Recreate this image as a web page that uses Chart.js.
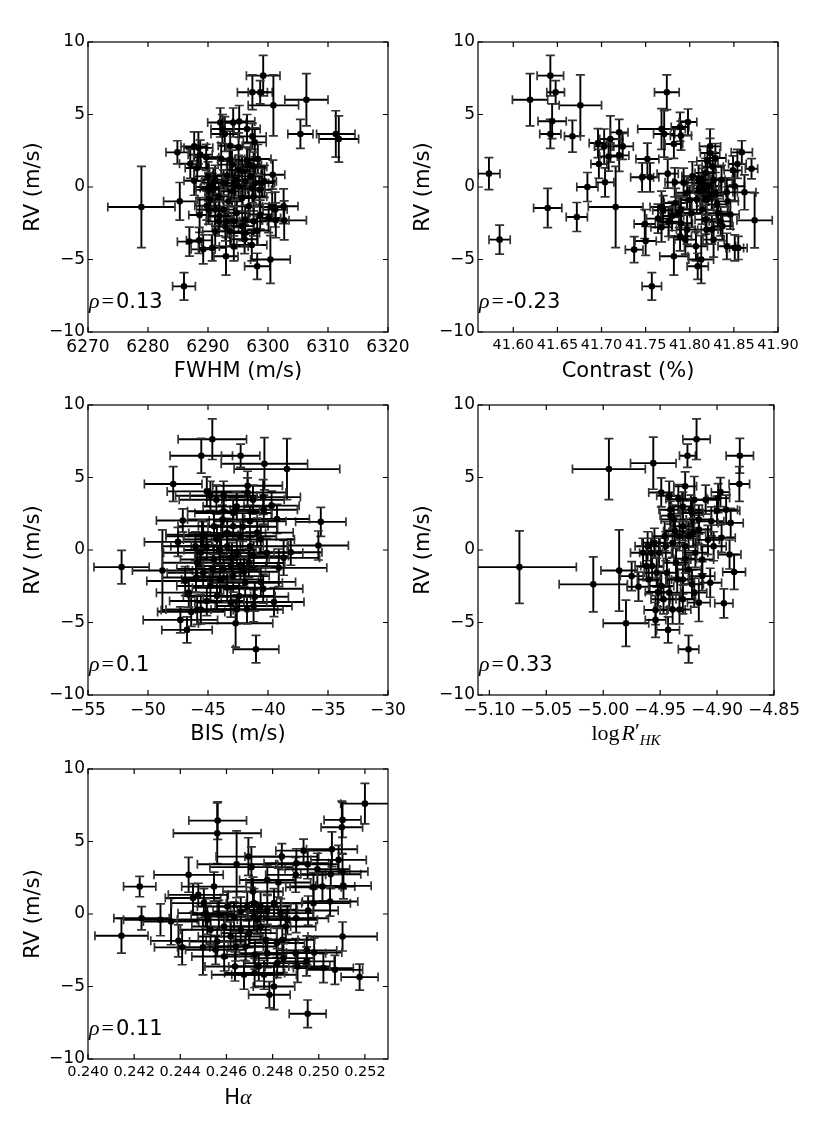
<!DOCTYPE html>
<html>
<head>
<meta charset="utf-8">
<script src="https://cdn.jsdelivr.net/npm/chart.js@4.4.1/dist/chart.umd.min.js"></script>
<style>
html, body { margin: 0; padding: 0; background: #fff; }
#page { position: relative; width: 830px; height: 1136px; overflow: hidden; background: #fff; }
#page canvas { position: absolute; }
</style>
</head>
<body>
<div id="page">
<canvas id="c1" width="415" height="380" style="left:0px;top:6px"></canvas>
<canvas id="c2" width="415" height="380" style="left:390px;top:6px"></canvas>
<canvas id="c3" width="415" height="380" style="left:0px;top:369px"></canvas>
<canvas id="c4" width="415" height="380" style="left:390px;top:369px"></canvas>
<canvas id="c5" width="415" height="380" style="left:0px;top:733px"></canvas>
</div>
<script>
// each point: [x, x error, RV, RV error]
const fwhmPts = [
	[6299.2, 2.8, 7.68, 1.4], [6297.4, 2.5, 6.53, 1.2], [6298.7, 2.0, 6.53, 0.8], [6300.9, 4.2, 5.63, 2.1],
	[6306.4, 3.6, 6.02, 1.8], [6305.4, 2.1, 3.66, 1.0], [6311.3, 3.2, 3.66, 1.6], [6311.8, 3.3, 3.31, 1.6],
	[6278.9, 5.6, -1.38, 2.8], [6284.9, 1.9, 2.39, 0.8], [6285.3, 2.7, -0.99, 1.3], [6286.0, 1.9, -6.85, 0.95],
	[6286.9, 2.0, -3.77, 1.0], [6287.05, 1.8, 1.6, 1.0], [6287.7, 2.2, 2.8, 1.0], [6288.4, 2.4, 2.7, 1.1],
	[6288.2, 2.0, 1.31, 0.9], [6287.7, 1.7, 0.43, 1.0], [6288.6, 1.8, -1.93, 1.2], [6288.5, 2.1, -3.68, 0.9],
	[6289.2, 2.0, -4.3, 1.0], [6290.7, 2.3, -4.2, 0.9], [6293.0, 2.0, -4.78, 1.3], [6294.3, 2.4, -4.1, 1.0],
	[6296.1, 2.2, -3.6, 1.0], [6297.3, 2.5, -4.0, 1.1], [6298.2, 2.1, -5.47, 0.9], [6300.4, 3.3, -5.0, 1.65],
	[6292.05, 2.1, 4.45, 1.0], [6292.4, 1.9, 4.0, 1.0], [6292.8, 2.3, 3.66, 1.2], [6293.7, 2.0, 2.85, 1.0],
	[6294.2, 2.2, 4.45, 1.0], [6295.2, 2.6, 4.52, 1.1], [6295.1, 2.0, 2.73, 1.0], [6296.5, 2.2, 4.0, 1.0],
	[6297.4, 2.3, 3.49, 0.9], [6297.8, 1.9, 3.08, 1.0], [6292.2, 2.4, 1.95, 1.1], [6293.6, 2.0, 1.88, 1.0],
	[6296.5, 2.1, 1.83, 0.9], [6298.3, 2.2, 1.93, 1.0], [6300.8, 2.0, 0.85, 1.0], [6290.0, 2.3, 0.73, 1.0],
	[6290.7, 2.0, -0.07, 1.0], [6290.1, 2.1, -0.2, 1.1], [6291.2, 2.2, 0.5, 1.0], [6292.6, 2.0, 0.28, 0.9],
	[6293.2, 2.4, 0.78, 1.0], [6294.6, 2.1, 0.5, 1.1], [6295.7, 2.0, 1.08, 1.0], [6296.2, 2.3, 0.39, 1.0],
	[6297.05, 2.0, 0.73, 0.9], [6297.9, 2.2, 0.28, 1.0], [6299.0, 2.1, 0.28, 1.0], [6299.4, 2.0, 0.39, 1.1],
	[6295.1, 2.2, 0.04, 1.0], [6294.0, 2.0, -0.3, 1.0], [6291.8, 2.3, -0.65, 1.0], [6290.4, 2.1, -0.87, 1.1],
	[6289.8, 2.0, -1.29, 1.0], [6293.4, 2.4, -0.99, 1.0], [6295.7, 2.1, -0.76, 0.9], [6297.6, 2.2, -0.65, 1.0],
	[6298.6, 2.0, -0.19, 1.0], [6296.8, 2.3, -1.33, 1.1], [6292.6, 2.0, -1.56, 1.0], [6294.8, 2.2, -1.79, 1.0],
	[6300.7, 2.1, -1.38, 1.0], [6301.2, 2.0, -1.56, 1.2], [6302.6, 2.4, -1.33, 1.2], [6302.7, 3.7, -2.3, 1.35],
	[6301.3, 2.2, -2.3, 1.2], [6300.1, 2.0, -2.14, 1.0], [6298.7, 2.1, -1.9, 1.0], [6297.6, 2.3, -2.37, 1.0],
	[6296.2, 2.0, -2.25, 1.0], [6294.3, 2.2, -2.37, 1.0], [6293.2, 2.0, -2.37, 1.1], [6291.8, 2.1, -2.37, 1.0],
	[6292.9, 2.2, -2.72, 1.0], [6293.7, 2.0, -3.06, 1.0], [6296.2, 2.4, -3.17, 0.9], [6295.7, 2.0, -2.7, 1.0],
	[6298.2, 2.2, -3.0, 1.0], [6291.2, 2.1, -3.06, 1.0], [6290.1, 2.0, -1.56, 1.0], [6291.2, 2.2, -1.56, 1.1],
	[6291.9, 2.0, -2.0, 1.0], [6290.1, 2.1, 0.0, 1.0], [6290.9, 2.0, 0.3, 1.0], [6294.4, 2.2, 0.1, 1.0],
	[6297.4, 2.1, -0.1, 1.0], [6295.1, 2.0, 1.19, 1.0], [6294.0, 2.3, 1.54, 1.0], [6296.9, 2.0, 1.54, 1.1],
	[6297.6, 2.2, 1.4, 1.0], [6288.7, 2.0, 2.23, 1.0], [6289.7, 2.1, 2.05, 0.9]
];

const contrastPts = [
	[41.5724, 0.0125, 0.92, 1.1], [41.5845, 0.012, -3.63, 1.0], [41.619, 0.02, 6.02, 1.8], [41.642, 0.015, 7.68, 1.4],
	[41.648, 0.01, 6.53, 0.8], [41.644, 0.016, 4.53, 1.2], [41.642, 0.012, 3.66, 1.0], [41.639, 0.016, -1.45, 1.35],
	[41.667, 0.009, 3.5, 1.1], [41.672, 0.012, -2.07, 1.0], [41.676, 0.024, 5.63, 2.1], [41.684, 0.012, 0.0, 1.0],
	[41.696, 0.01, 3.03, 1.0], [41.697, 0.009, 1.59, 1.0], [41.704, 0.01, 0.32, 1.0], [41.703, 0.011, 2.8, 1.2],
	[41.71, 0.012, 3.31, 1.6], [41.708, 0.01, 2.1, 1.0], [41.72, 0.01, 3.77, 0.9], [41.72, 0.011, 2.18, 1.1],
	[41.724, 0.012, 2.8, 0.9], [41.716, 0.031, -1.38, 2.8], [41.737, 0.01, -4.32, 0.9], [41.746, 0.013, 0.67, 1.0],
	[41.749, 0.012, -2.55, 1.0], [41.75, 0.012, -3.72, 1.0], [41.752, 0.013, 1.93, 1.1], [41.755, 0.01, 0.67, 1.0],
	[41.757, 0.011, -6.85, 0.95], [41.768, 0.027, 4.0, 1.4], [41.771, 0.012, 3.66, 1.6], [41.774, 0.014, 6.53, 1.2],
	[41.764, 0.013, -2.18, 1.0], [41.768, 0.012, -2.78, 1.0], [41.768, 0.013, -1.38, 1.1], [41.775, 0.012, 0.92, 1.0],
	[41.782, 0.016, -4.78, 1.3], [41.782, 0.01, 2.97, 1.0], [41.783, 0.011, 0.32, 1.0], [41.789, 0.01, 4.14, 1.0],
	[41.79, 0.012, 3.54, 1.0], [41.798, 0.01, 4.48, 0.9], [41.784, 0.013, -1.1, 1.0], [41.788, 0.012, -1.8, 1.0],
	[41.79, 0.013, -2.5, 1.1], [41.795, 0.012, -3.63, 1.0], [41.807, 0.013, -4.09, 1.0], [41.809, 0.012, -5.47, 0.9],
	[41.813, 0.014, -5.0, 1.65], [41.823, 0.012, 2.8, 1.2], [41.823, 0.011, 2.35, 1.0], [41.829, 0.012, 2.0, 1.0],
	[41.822, 0.013, 0.05, 1.0], [41.829, 0.012, -0.4, 1.0], [41.818, 0.012, 0.97, 1.0], [41.812, 0.013, -0.3, 1.0],
	[41.803, 0.012, 0.74, 1.0], [41.797, 0.013, -0.4, 1.1], [41.827, 0.012, -3.63, 1.2], [41.835, 0.013, -2.37, 1.0],
	[41.842, 0.01, -4.09, 0.9], [41.851, 0.01, -4.2, 0.9], [41.855, 0.01, -4.2, 0.8], [41.843, 0.012, -0.99, 1.0],
	[41.846, 0.01, -1.9, 1.0], [41.849, 0.01, 1.15, 1.0], [41.851, 0.011, 0.05, 1.0], [41.854, 0.01, 1.59, 1.0],
	[41.859, 0.012, 2.39, 0.8], [41.870, 0.007, 1.26, 0.7], [41.862, 0.013, -0.37, 1.2], [41.8735, 0.02, -2.3, 1.9],
	[41.842, 0.012, -0.37, 1.0], [41.836, 0.012, 0.5, 1.0], [41.827, 0.013, 0.5, 1.0], [41.819, 0.012, -0.87, 1.0],
	[41.814, 0.013, -1.56, 1.0], [41.818, 0.012, -2.25, 1.0], [41.825, 0.012, -2.94, 1.0], [41.819, 0.013, -2.94, 1.0],
	[41.821, 0.012, 0.05, 1.0], [41.814, 0.011, 0.28, 1.0], [41.808, 0.013, -0.87, 1.0], [41.802, 0.012, -1.79, 1.0],
	[41.797, 0.012, -2.94, 1.0], [41.789, 0.013, -3.4, 1.0], [41.79, 0.012, -1.56, 1.0], [41.78, 0.013, -2.0, 1.0],
	[41.826, 0.012, 1.4, 1.0], [41.831, 0.012, -1.2, 1.0], [41.816, 0.012, -0.1, 1.0], [41.825, 0.013, -0.6, 1.0],
	[41.832, 0.012, -1.8, 1.0], [41.82, 0.012, 1.8, 1.0], [41.81, 0.012, 0.5, 1.0], [41.837, 0.012, -2.7, 1.0],
	[41.8, 0.012, -0.9, 1.0], [41.793, 0.012, 0.3, 1.0], [41.77, 0.012, -1.6, 1.0], [41.776, 0.012, -2.4, 1.0]
];

const bisPts = [
	[-44.64, 2.85, 7.64, 1.4], [-45.56, 2.6, 6.5, 1.2], [-42.28, 1.6, 6.5, 0.8], [-40.3, 3.6, 5.95, 1.8],
	[-38.42, 4.4, 5.58, 2.1], [-47.9, 2.4, 4.55, 1.2], [-52.2, 2.3, -1.18, 1.15], [-48.8, 2.5, -1.41, 2.8],
	[-47.1, 2.2, 2.03, 0.8], [-47.5, 2.8, 0.56, 1.0], [-35.6, 2.1, 1.94, 1.0], [-35.8, 2.5, 0.31, 1.0],
	[-38.1, 2.6, -0.15, 0.9], [-38.7, 3.0, -0.54, 1.2], [-39.1, 4.0, -1.23, 1.3], [-39.5, 2.5, -3.59, 1.0],
	[-39.25, 2.7, 2.14, 1.0], [-39.7, 2.3, 3.06, 1.0], [-40.4, 3.1, 3.65, 1.2], [-40.35, 2.8, 2.78, 1.0],
	[-41.7, 2.9, 4.43, 1.0], [-41.7, 3.2, 3.97, 1.0], [-41.25, 2.6, 3.47, 1.0], [-41.5, 3.0, 1.98, 1.1],
	[-45.1, 3.3, 4.04, 1.0], [-44.8, 2.9, 3.74, 1.0], [-44.3, 3.1, 3.47, 1.0], [-43.7, 2.8, 3.74, 1.0],
	[-47.3, 3.1, -4.82, 0.9], [-46.75, 2.1, -5.51, 0.9], [-46.4, 2.8, -4.27, 1.0], [-45.9, 3.0, -4.13, 1.0],
	[-46.6, 2.7, -2.94, 1.0], [-46.9, 3.2, -2.14, 1.0], [-42.7, 3.1, -5.05, 1.65], [-41.0, 1.9, -6.84, 0.95],
	[-42.6, 3.4, -4.1, 1.0], [-41.75, 3.0, -4.1, 1.0], [-41.2, 3.2, -3.86, 1.1], [-43.1, 3.0, -3.63, 1.0],
	[-41.1, 2.8, -3.22, 1.0], [-40.4, 3.3, -2.67, 1.0], [-40.6, 2.9, -2.2, 1.0], [-41.9, 3.1, -2.26, 1.0],
	[-42.9, 3.0, -1.8, 1.1], [-44.0, 3.2, -2.03, 1.0], [-44.8, 2.8, -2.48, 1.0], [-45.4, 3.0, -1.57, 1.0],
	[-45.9, 2.9, -0.88, 1.0], [-45.6, 3.1, -0.19, 1.0], [-45.1, 3.0, 0.26, 1.0], [-44.25, 2.8, 0.72, 1.0],
	[-43.4, 3.2, 1.18, 1.0], [-42.9, 2.9, 1.64, 1.0], [-42.3, 3.0, 0.95, 1.0], [-41.5, 3.1, 0.26, 1.0],
	[-40.6, 2.8, 0.72, 1.0], [-40.1, 3.0, -0.19, 1.0], [-41.2, 2.9, -0.42, 1.0], [-42.6, 3.1, -0.19, 1.0],
	[-43.4, 3.0, 0.26, 1.0], [-44.5, 2.8, -0.65, 1.0], [-45.4, 3.1, 0.95, 1.0], [-44.5, 3.0, 1.64, 1.0],
	[-43.8, 2.9, 2.1, 1.0], [-42.9, 3.2, 2.55, 1.0], [-42.6, 2.8, 3.0, 1.0], [-43.7, 3.0, 2.67, 1.0],
	[-43.1, 2.9, -1.11, 1.0], [-42.3, 3.1, -1.11, 1.0], [-43.7, 3.0, -1.34, 1.0], [-44.25, 2.8, -3.17, 1.0],
	[-45.1, 3.1, -3.52, 1.0], [-42.4, 3.0, -3.17, 1.0], [-45.6, 2.9, -4.1, 1.0], [-45.5, 3.0, 1.06, 1.0],
	[-46.05, 2.8, 0.26, 1.0], [-44.0, 3.0, 0.0, 1.0], [-43.0, 3.1, -0.5, 1.0], [-42.0, 2.9, -1.5, 1.0],
	[-44.6, 3.0, -1.3, 1.0], [-43.4, 2.9, -2.6, 1.0], [-41.6, 3.0, -0.9, 1.0], [-46.0, 2.8, -1.9, 1.0],
	[-43.9, 3.1, 1.0, 1.0], [-42.1, 2.9, 1.6, 1.0], [-40.9, 3.0, 1.2, 1.0]
];

const rhkPts = [
	[-5.0736, 0.05, -1.18, 2.5], [-5.0087, 0.03, -2.37, 1.9], [-4.995, 0.032, 5.58, 2.1], [-4.986, 0.016, -1.41, 2.8],
	[-4.98, 0.02, -5.05, 1.6], [-4.975, 0.01, -1.8, 1.0], [-4.969, 0.01, -2.53, 1.0], [-4.956, 0.02, 5.99, 1.8],
	[-4.949, 0.011, 3.97, 1.0], [-4.954, 0.01, -4.14, 1.0], [-4.954, 0.009, -4.82, 1.2], [-4.943, 0.01, -5.51, 0.9],
	[-4.942, 0.011, 3.74, 1.0], [-4.941, 0.01, 2.78, 1.0], [-4.941, 0.009, 2.37, 1.0], [-4.934, 0.011, 3.51, 1.0],
	[-4.928, 0.01, 4.39, 1.0], [-4.926, 0.007, 6.5, 0.8], [-4.918, 0.012, 7.64, 1.4], [-4.925, 0.009, -6.84, 0.95],
	[-4.920, 0.012, 3.47, 1.6], [-4.923, 0.01, 2.78, 1.0], [-4.916, 0.011, 1.41, 1.0], [-4.910, 0.01, 3.47, 1.0],
	[-4.905, 0.011, 1.98, 1.0], [-4.899, 0.01, 3.58, 1.0], [-4.897, 0.008, 3.99, 1.0], [-4.900, 0.02, 2.71, 1.0],
	[-4.892, 0.01, 2.78, 1.0], [-4.894, 0.008, -3.68, 1.0], [-4.888, 0.011, 1.87, 1.0], [-4.885, 0.01, -1.52, 1.2],
	[-4.889, 0.01, -0.31, 1.0], [-4.880, 0.012, 6.5, 1.2], [-4.8804, 0.009, 4.55, 1.2], [-4.896, 0.012, 0.84, 1.0],
	[-4.903, 0.011, 0.26, 1.0], [-4.906, 0.01, -2.26, 1.0], [-4.913, 0.011, -1.8, 1.0], [-4.916, 0.01, -3.63, 1.3],
	[-4.920, 0.011, -2.94, 1.0], [-4.922, 0.01, -2.37, 1.0], [-4.925, 0.011, -1.34, 1.0], [-4.930, 0.01, -2.03, 1.0],
	[-4.928, 0.011, 0.26, 1.0], [-4.933, 0.01, 0.95, 1.0], [-4.939, 0.011, 0.49, 1.0], [-4.945, 0.01, 0.26, 1.0],
	[-4.951, 0.011, -0.19, 1.0], [-4.957, 0.01, -1.11, 1.0], [-4.961, 0.011, 0.26, 1.0], [-4.960, 0.01, -2.03, 1.0],
	[-4.953, 0.011, -1.57, 1.0], [-4.944, 0.01, -1.57, 1.0], [-4.936, 0.011, -0.88, 1.0], [-4.930, 0.01, 1.64, 1.0],
	[-4.938, 0.011, 2.1, 1.0], [-4.942, 0.01, -2.94, 1.0], [-4.939, 0.011, -4.1, 1.0], [-4.933, 0.01, -4.1, 1.0],
	[-4.930, 0.011, -3.4, 1.0], [-4.935, 0.01, -2.03, 1.0], [-4.949, 0.011, -2.48, 1.0], [-4.958, 0.01, -0.19, 1.0],
	[-4.965, 0.011, -0.19, 1.0], [-4.962, 0.01, -1.11, 1.0], [-4.946, 0.011, 0.95, 1.0], [-4.925, 0.01, 0.95, 1.0],
	[-4.919, 0.011, -0.19, 1.0], [-4.913, 0.01, -0.65, 1.0], [-4.916, 0.011, 2.1, 1.0], [-4.922, 0.01, 2.55, 1.0],
	[-4.947, 0.011, -3.4, 1.0], [-4.928, 0.01, -0.6, 1.0], [-4.921, 0.011, 1.2, 1.0], [-4.908, 0.01, 0.7, 1.0],
	[-4.952, 0.011, -2.9, 1.0], [-4.937, 0.01, 1.3, 1.0], [-4.955, 0.011, 0.5, 1.0], [-4.93, 0.01, 3.0, 1.0]
];

const halphaPts = [
	[0.2520, 0.00105, 7.61, 1.4], [0.25103, 0.0008, 6.49, 1.2], [0.2510, 0.0009, 5.98, 1.8], [0.24562, 0.00125, 6.44, 1.3],
	[0.2456, 0.0019, 5.57, 2.1], [0.25177, 0.0008, -4.35, 0.9], [0.24952, 0.0008, -6.88, 0.95], [0.24786, 0.0009, -5.57, 0.9],
	[0.24806, 0.0009, -5.0, 1.6], [0.24145, 0.00115, -1.5, 1.2], [0.24224, 0.0007, 1.89, 0.7], [0.24232, 0.0012, -0.29, 0.8],
	[0.24314, 0.0016, -0.4, 1.1], [0.24360, 0.0012, -0.52, 1.6], [0.24392, 0.0012, -1.85, 1.1], [0.24408, 0.0012, -2.3, 1.2],
	[0.24436, 0.0015, 2.7, 1.2], [0.24455, 0.0012, 1.1, 1.0], [0.24478, 0.0013, 1.32, 0.8], [0.24498, 0.0011, -2.3, 1.9],
	[0.24546, 0.0014, 1.89, 1.0], [0.24644, 0.0017, 3.43, 2.3], [0.24695, 0.0014, 3.96, 1.3], [0.24708, 0.0018, 3.23, 1.4],
	[0.24715, 0.0013, 1.55, 1.0], [0.24777, 0.0012, 2.35, 1.0], [0.2484, 0.0016, 3.96, 0.9], [0.24825, 0.0014, 2.17, 1.0],
	[0.24934, 0.0012, 4.37, 0.8], [0.24900, 0.0013, 2.7, 1.2], [0.24903, 0.0014, 3.5, 1.0], [0.24952, 0.0013, 3.43, 1.0],
	[0.24994, 0.0014, 3.09, 1.1], [0.24977, 0.0012, 1.85, 1.0], [0.25016, 0.0014, 1.9, 1.0], [0.25057, 0.0011, 4.47, 1.2],
	[0.25052, 0.0013, 2.74, 1.0], [0.25086, 0.0012, 3.73, 1.0], [0.25103, 0.0011, 2.93, 1.2], [0.25107, 0.0012, 1.94, 0.9],
	[0.24977, 0.0016, 0.75, 1.0], [0.24954, 0.0013, 0.24, 1.0], [0.25049, 0.0012, 0.86, 1.0], [0.25103, 0.0015, -1.55, 1.0],
	[0.24947, 0.0012, -3.27, 1.0], [0.24948, 0.0013, -2.51, 1.0], [0.2498, 0.0012, -2.65, 1.0], [0.2502, 0.0013, -3.73, 1.0],
	[0.2507, 0.0012, -3.85, 1.0], [0.24908, 0.0014, -3.62, 1.1], [0.24900, 0.0013, -2.7, 1.0], [0.24902, 0.0014, -0.29, 1.0],
	[0.24857, 0.0013, -0.86, 1.0], [0.24842, 0.0014, -1.78, 1.0], [0.24818, 0.0012, -2.0, 1.0], [0.24847, 0.0013, -3.04, 1.0],
	[0.24763, 0.0014, -4.19, 1.0], [0.24722, 0.0013, -4.07, 1.0], [0.24676, 0.0014, -4.19, 1.0], [0.24637, 0.0013, -3.62, 1.0],
	[0.24723, 0.0012, -2.8, 1.0], [0.24770, 0.0014, -1.78, 1.0], [0.24748, 0.0013, -0.86, 1.0], [0.24719, 0.0014, -0.17, 1.0],
	[0.2469, 0.0013, 0.52, 1.0], [0.24662, 0.0012, 0.17, 1.0], [0.24633, 0.0014, -0.17, 1.0], [0.24604, 0.0013, 0.52, 1.0],
	[0.2459, 0.0014, -0.86, 1.0], [0.2456, 0.0012, -1.9, 1.0], [0.24553, 0.0013, -2.47, 1.0], [0.2459, 0.0014, -2.93, 1.0],
	[0.24531, 0.0013, -1.09, 1.0], [0.2451, 0.0012, 0.06, 1.0], [0.24502, 0.0014, 0.75, 1.0], [0.24517, 0.0013, -0.4, 1.0],
	[0.24567, 0.0012, -0.06, 1.0], [0.24618, 0.0014, -1.55, 1.0], [0.24662, 0.0013, -1.09, 1.0], [0.24698, 0.0012, -1.32, 1.0],
	[0.24734, 0.0014, -0.4, 1.0], [0.24777, 0.0013, 0.29, 1.0], [0.24806, 0.0012, 0.75, 1.0], [0.24835, 0.0014, 0.06, 1.0],
	[0.24864, 0.0013, -0.4, 1.0], [0.24777, 0.0012, -2.7, 1.0], [0.2482, 0.0014, -3.39, 1.0], [0.2474, 0.0013, -3.62, 1.0],
	[0.2464, 0.0012, -2.24, 1.0], [0.24683, 0.0014, -2.24, 1.0], [0.24748, 0.0013, 0.52, 1.0], [0.24719, 0.0012, 0.75, 1.0]
];

// tick values for the axes
const rvTicks = [-10, -5, 0, 5, 10];
const fwhmTicks = [6270, 6280, 6290, 6300, 6310, 6320];
const contrastTicks = [41.60, 41.65, 41.70, 41.75, 41.80, 41.85, 41.90];
const bisTicks = [-55, -50, -45, -40, -35, -30];
const rhkTicks = [-5.10, -5.05, -5.00, -4.95, -4.90, -4.85];
const halphaTicks = [0.240, 0.242, 0.244, 0.246, 0.248, 0.250, 0.252];

// correlation coefficients shown in each panel
const rhoLabels = ["0.13", "-0.23", "0.1", "0.33", "0.11"];

const SANS = '"DejaVu Sans"';
const SERIF = '"Liberation Serif"';

Chart.defaults.font.family = SANS;
Chart.defaults.color = "#000";

function fmt(v, dec) {
	const s = Math.abs(v).toFixed(dec);
	return v < 0 ? "\u2212" + s : s;
}

function drawRich(ctx, segs, x, y, align) {
	let total = 0;
	segs.forEach(function (s) {
		ctx.font = s.font;
		s.w = ctx.measureText(s.t).width;
		total += s.w + (s.gap || 0);
	});
	let cx = align === "center" ? x - total / 2 : x;
	ctx.textAlign = "left";
	ctx.textBaseline = "alphabetic";
	segs.forEach(function (s) {
		ctx.font = s.font;
		ctx.fillText(s.t, cx, y + (s.dy || 0));
		cx += s.w + (s.gap || 0);
	});
}

const errorBars = {
	id: "errorBars",
	beforeDatasetsDraw(chart) {
		const { ctx, chartArea: a, scales } = chart;
		const x = scales.x, y = scales.y;
		ctx.save();
		ctx.beginPath();
		ctx.rect(a.left, a.top, a.right - a.left, a.bottom - a.top);
		ctx.clip();
		chart.data.datasets[0].data.forEach(function (d) {
			const px = x.getPixelForValue(d.x), py = y.getPixelForValue(d.y);
			const x0 = x.getPixelForValue(d.x - d.xe), x1 = x.getPixelForValue(d.x + d.xe);
			const y0 = y.getPixelForValue(d.y - d.ye), y1 = y.getPixelForValue(d.y + d.ye);
			ctx.strokeStyle = "#000";
			ctx.lineWidth = 1.9;
			ctx.beginPath();
			ctx.moveTo(x0, py); ctx.lineTo(x1, py);
			ctx.moveTo(px, y0); ctx.lineTo(px, y1);
			ctx.stroke();
			ctx.strokeStyle = "#333";
			ctx.lineWidth = 1.7;
			ctx.beginPath();
			ctx.moveTo(x0, py - 4.5); ctx.lineTo(x0, py + 4.5);
			ctx.moveTo(x1, py - 4.5); ctx.lineTo(x1, py + 4.5);
			ctx.moveTo(px - 4.5, y0); ctx.lineTo(px + 4.5, y0);
			ctx.moveTo(px - 4.5, y1); ctx.lineTo(px + 4.5, y1);
			ctx.stroke();
		});
		ctx.restore();
	},
};

const frame = {
	id: "frame",
	afterDraw(chart, args, opts) {
		const { ctx, chartArea: a, scales } = chart;
		ctx.save();
		ctx.strokeStyle = "#000";
		ctx.lineWidth = 1.2;
		ctx.strokeRect(a.left, a.top, a.right - a.left, a.bottom - a.top);
		ctx.beginPath();
		opts.xTicks.forEach(function (v) {
			const p = scales.x.getPixelForValue(v);
			ctx.moveTo(p, a.bottom); ctx.lineTo(p, a.bottom - 5);
			ctx.moveTo(p, a.top); ctx.lineTo(p, a.top + 5);
		});
		rvTicks.forEach(function (v) {
			const p = scales.y.getPixelForValue(v);
			ctx.moveTo(a.left, p); ctx.lineTo(a.left + 5, p);
			ctx.moveTo(a.right, p); ctx.lineTo(a.right - 5, p);
		});
		ctx.stroke();

		ctx.fillStyle = "#000";
		// x title
		drawRich(ctx, opts.xTitle, (a.left + a.right) / 2, a.bottom + 45, "center");
		// y title
		ctx.save();
		ctx.translate(34, (a.top + a.bottom) / 2);
		ctx.rotate(-Math.PI / 2);
		ctx.font = "21px " + SANS;
		ctx.textAlign = "center";
		ctx.textBaseline = "middle";
		ctx.fillText("RV (m/s)", 0, 0);
		ctx.restore();
		// correlation label
		drawRich(ctx, [
			{ t: "\u03c1", font: "italic 22px " + SERIF, gap: 2 },
			{ t: "=", font: "22px " + SERIF, gap: 2 },
			{ t: opts.rho, font: "21px " + SANS },
		], a.left + 1, a.bottom - 24, "left");
		ctx.restore();
	},
};

function makePanel(id, pts, xMin, xMax, xTicks, xDec, xFont, xTitle, rho) {
	const ctx = document.getElementById(id).getContext("2d");
	return new Chart(ctx, {
		type: "scatter",
		data: {
			datasets: [
				{
					data: pts.map(function (p) {
						return { x: p[0], xe: p[1], y: p[2], ye: p[3] };
					}),
					pointRadius: 3.3,
					pointHoverRadius: 3.3,
					backgroundColor: "#000",
					borderWidth: 0,
				},
			],
		},
		options: {
			responsive: false,
			animation: false,
			events: [],
			layout: { padding: { top: 36, right: 27, bottom: 0, left: 0 } },
			plugins: {
				legend: { display: false },
				tooltip: { enabled: false },
				frame: { xTicks: xTicks, xTitle: xTitle, rho: rho },
			},
			scales: {
				x: {
					type: "linear",
					min: xMin,
					max: xMax,
					afterBuildTicks: function (s) {
						s.ticks = xTicks.map(function (v) { return { value: v }; });
					},
					afterFit: function (s) { s.height = 54; },
					grid: { display: false, drawTicks: false },
					border: { display: false },
					ticks: {
						padding: 5,
						autoSkip: false,
						maxRotation: 0,
						color: "#000",
						font: { family: SANS, size: xFont },
						callback: function (v) { return fmt(v, xDec); },
					},
				},
				y: {
					type: "linear",
					min: -10,
					max: 10,
					afterBuildTicks: function (s) {
						s.ticks = rvTicks.map(function (v) { return { value: v }; });
					},
					afterFit: function (s) { s.width = 88; },
					grid: { display: false, drawTicks: false },
					border: { display: false },
					ticks: {
						padding: 3,
						color: "#000",
						font: { family: SANS, size: 17 },
						callback: function (v) { return fmt(v, 0); },
					},
				},
			},
		},
		plugins: [errorBars, frame],
	});
}

makePanel("c1", fwhmPts, 6270, 6320, fwhmTicks, 0, 17,
	[{ t: "FWHM (m/s)", font: "21px " + SANS }], rhoLabels[0]);
makePanel("c2", contrastPts, 41.56, 41.90, contrastTicks, 2, 14.5,
	[{ t: "Contrast (%)", font: "21px " + SANS }], rhoLabels[1]);
makePanel("c3", bisPts, -55, -30, bisTicks, 0, 17,
	[{ t: "BIS (m/s)", font: "21px " + SANS }], rhoLabels[2]);
makePanel("c4", rhkPts, -5.11, -4.85, rhkTicks, 2, 17,
	[
		{ t: "log", font: "22px " + SERIF, gap: 2 },
		{ t: "R", font: "italic 22px " + SERIF, gap: 0 },
		{ t: "\u2032", font: "22px " + SERIF, dy: -2, gap: 0 },
		{ t: "HK", font: "italic 15px " + SERIF, dy: 5 },
	], rhoLabels[3]);
makePanel("c5", halphaPts, 0.240, 0.253, halphaTicks, 3, 14.5,
	[
		{ t: "H", font: "21px " + SANS },
		{ t: "\u03b1", font: "italic 22px " + SERIF },
	], rhoLabels[4]);
</script>
</body>
</html>
